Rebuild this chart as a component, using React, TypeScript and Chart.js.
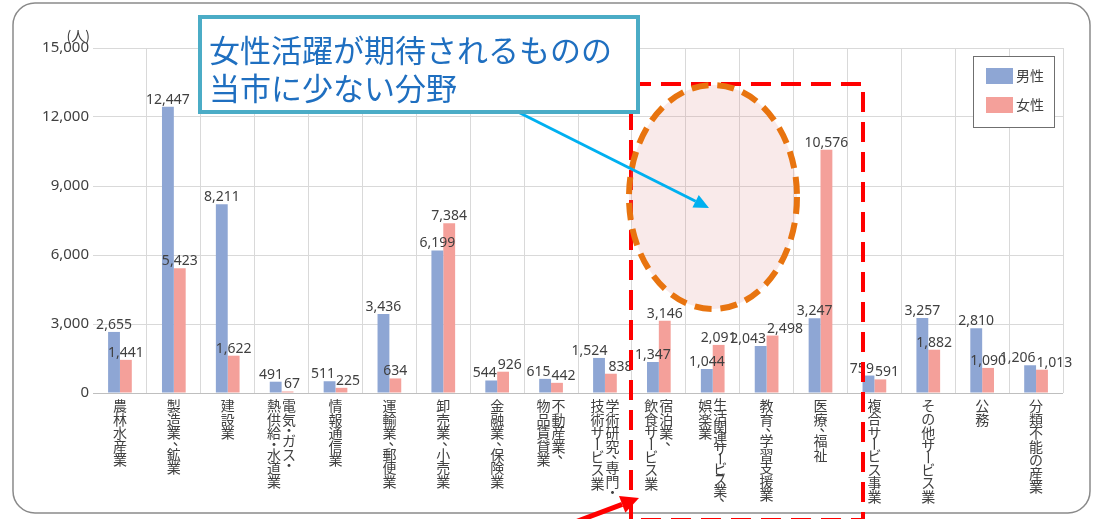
import React, { useEffect, useRef } from "react";
import { Chart, registerables } from "chart.js";

Chart.register(...registerables);

// ---- data ----
const categories: string[][] = [
  ["農林水産業"],
  ["製造業、鉱業"],
  ["建設業"],
  ["電気・ガス・", "熱供給・水道業"],
  ["情報通信業"],
  ["運輸業、郵便業"],
  ["卸売業、小売業"],
  ["金融業、保険業"],
  ["不動産業、", "物品賃貸業"],
  ["学術研究、専門・", "技術サービス業"],
  ["宿泊業、", "飲食サービス業"],
  ["生活関連サービス業、", "娯楽業"],
  ["教育、学習支援業"],
  ["医療、福祉"],
  ["複合サービス事業"],
  ["その他サービス業"],
  ["公務"],
  ["分類不能の産業"],
];
const maleValues = [2655, 12447, 8211, 491, 511, 3436, 6199, 544, 615, 1524, 1347, 1044, 2043, 3247, 759, 3257, 2810, 1206];
const femaleValues = [1441, 5423, 1622, 67, 225, 634, 7384, 926, 442, 838, 3146, 2091, 2498, 10576, 591, 1882, 1090, 1013];
const seriesNames = ["男性", "女性"];
const yMin = 0;
const yMax = 15000;
const yStep = 3000;
const yUnit = "(人)";
const calloutLines = ["女性活躍が期待されるものの", "当市に少ない分野"];

const MALE_COLOR = "#8EA6D4";
const FEMALE_COLOR = "#F4A09A";
const TEXT = "#404040";
const CJK = '"Noto Sans CJK JP", "Noto Sans", sans-serif';
const NUM = '"Noto Sans", sans-serif';

const fmt = (v: number) => v.toLocaleString("en-US");

function drawArrow(ctx: CanvasRenderingContext2D, x1: number, y1: number, x2: number, y2: number, color: string, lw: number, headLen: number, headHalf: number) {
  const ang = Math.atan2(y2 - y1, x2 - x1);
  const bx = x2 - Math.cos(ang) * headLen;
  const by = y2 - Math.sin(ang) * headLen;
  ctx.save();
  ctx.strokeStyle = color;
  ctx.fillStyle = color;
  ctx.lineWidth = lw;
  ctx.setLineDash([]);
  ctx.beginPath();
  ctx.moveTo(x1, y1);
  ctx.lineTo(bx, by);
  ctx.stroke();
  ctx.beginPath();
  ctx.moveTo(x2, y2);
  ctx.lineTo(bx + Math.sin(ang) * headHalf, by - Math.cos(ang) * headHalf);
  ctx.lineTo(bx - Math.sin(ang) * headHalf, by + Math.cos(ang) * headHalf);
  ctx.closePath();
  ctx.fill();
  ctx.restore();
}

const barLabelPlugin = {
  id: "barLabels",
  afterDatasetsDraw(chart: any) {
    const ctx: CanvasRenderingContext2D = chart.ctx;
    const m0 = chart.getDatasetMeta(0);
    const m1 = chart.getDatasetMeta(1);
    ctx.save();
    ctx.font = `14px ${NUM}`;
    ctx.fillStyle = TEXT;
    ctx.textAlign = "center";
    ctx.textBaseline = "alphabetic";
    for (let i = 0; i < categories.length; i++) {
      const a = m0.data[i];
      const b = m1.data[i];
      const ta = fmt(maleValues[i]);
      const tb = fmt(femaleValues[i]);
      const wa = ctx.measureText(ta).width;
      const wb = ctx.measureText(tb).width;
      let xa = a.x;
      let xb = b.x;
      const ya = a.y - 3;
      const yb = b.y - 3;
      if (Math.abs(ya - yb) < 16) {
        const overlap = xa + wa / 2 + 1 - (xb - wb / 2);
        if (overlap > 0) {
          xa -= overlap / 2;
          xb += overlap / 2;
        }
      }
      ctx.fillText(ta, xa, ya);
      ctx.fillText(tb, xb, yb);
    }
    ctx.restore();
  },
};

const decorPlugin = {
  id: "decor",
  afterDraw(chart: any) {
    const ctx: CanvasRenderingContext2D = chart.ctx;
    const area = chart.chartArea;
    const xs = chart.scales.x;
    ctx.save();

    // unit label
    ctx.font = `14px ${CJK}`;
    ctx.fillStyle = TEXT;
    ctx.textAlign = "right";
    ctx.textBaseline = "middle";
    ctx.fillText(yUnit, area.left - 3, area.top - 12);

    // vertical category labels
    const fs = 14;
    const maxColH = 104;
    ctx.font = `${fs}px ${CJK}`;
    ctx.textAlign = "center";
    ctx.textBaseline = "middle";
    ctx.fillStyle = TEXT;
    const cellH = (ch: string) => ("、・".includes(ch) ? 8 : ch === "ー" ? 10 : 13.5);
    categories.forEach((cols, i) => {
      const cx0 = xs.getPixelForValue(i);
      const n = cols.length;
      cols.forEach((line, j) => {
        // first line is the right-most column
        const cx = cx0 + ((n - 1) / 2 - j) * 15;
        const chars = Array.from(line);
        const total = chars.reduce((s, ch) => s + cellH(ch), 0);
        const k = total > maxColH ? maxColH / total : 1;
        let y = area.bottom + 6;
        for (const ch of chars) {
          const h = cellH(ch) * k;
          const cy = y + h / 2;
          if (ch === "ー") {
            ctx.save();
            ctx.translate(cx, cy);
            ctx.rotate(Math.PI / 2);
            ctx.fillText(ch, 0, 0);
            ctx.restore();
          } else if (ch === "、") {
            ctx.fillText(ch, cx + 6, cy - 4);
          } else {
            ctx.fillText(ch, cx, cy);
          }
          y += h;
        }
      });
    });

    // legend
    const lx = 973, ly = 56, lw = 81, lh = 71;
    ctx.fillStyle = "#ffffff";
    ctx.fillRect(lx, ly, lw, lh);
    ctx.strokeStyle = "#6f6f6f";
    ctx.lineWidth = 1;
    ctx.strokeRect(lx + 0.5, ly + 0.5, lw, lh);
    const colors = [MALE_COLOR, FEMALE_COLOR];
    ctx.font = `14px ${CJK}`;
    ctx.textAlign = "left";
    ctx.textBaseline = "middle";
    seriesNames.forEach((name, k) => {
      const sy = 68 + k * 29;
      ctx.fillStyle = colors[k];
      ctx.fillRect(986, sy, 27, 16);
      ctx.fillStyle = TEXT;
      ctx.fillText(name, 1016, sy + 8);
    });

    // outer rounded frame
    ctx.strokeStyle = "#8a8a8a";
    ctx.lineWidth = 1.5;
    ctx.beginPath();
    (ctx as any).roundRect(13, 3, 1077, 510, 22);
    ctx.stroke();

    // red dashed rectangle
    ctx.strokeStyle = "#FF0000";
    ctx.lineWidth = 4;
    ctx.setLineDash([20, 10]);
    ctx.strokeRect(631, 84, 232, 436);
    ctx.setLineDash([]);

    // ellipse
    ctx.beginPath();
    ctx.ellipse(713, 197, 84, 112, 0, 0, Math.PI * 2);
    ctx.fillStyle = "rgba(225,150,150,0.2)";
    ctx.fill();
    ctx.strokeStyle = "#E8740F";
    ctx.lineWidth = 6;
    ctx.setLineDash([17, 9]);
    ctx.stroke();
    ctx.setLineDash([]);

    // cyan arrow
    drawArrow(ctx, 518, 112, 709, 208, "#00B0F0", 3, 15, 7);

    // callout box
    ctx.fillStyle = "#ffffff";
    ctx.fillRect(200, 17, 438, 95);
    ctx.strokeStyle = "#4BACC6";
    ctx.lineWidth = 4;
    ctx.strokeRect(200, 17, 438, 95);
    ctx.fillStyle = "#1F6FC0";
    ctx.font = `31px ${CJK}`;
    ctx.textAlign = "left";
    ctx.textBaseline = "middle";
    ctx.fillText(calloutLines[0], 209, 50);
    ctx.fillText(calloutLines[1], 209, 88);

    // red arrow
    drawArrow(ctx, 570, 524, 639, 498, "#FF0000", 5, 18, 9);

    ctx.restore();
  },
};

export default function App() {
  const ref = useRef<HTMLCanvasElement | null>(null);
  useEffect(() => {
    document.body.style.margin = "0";
    if (!ref.current) return;
    const chart = new Chart(ref.current, {
      type: "bar",
      data: {
        labels: categories.map((c) => c.join("")),
        datasets: [
          { label: seriesNames[0], data: maleValues, backgroundColor: MALE_COLOR, categoryPercentage: 0.44, barPercentage: 1.0 },
          { label: seriesNames[1], data: femaleValues, backgroundColor: FEMALE_COLOR, categoryPercentage: 0.44, barPercentage: 1.0 },
        ],
      },
      options: {
        responsive: false,
        animation: false,
        devicePixelRatio: 1,
        layout: { padding: { left: 0, top: 48, right: 30, bottom: 0 } },
        plugins: { legend: { display: false }, tooltip: { enabled: false } },
        scales: {
          x: {
            offset: true,
            grid: {
              offset: true,
              drawTicks: false,
              color: (c: any) => (c.index === 0 || c.index === categories.length ? "rgba(0,0,0,0)" : "#d9d9d9"),
            },
            border: { display: false },
            ticks: { display: false },
            afterFit: (s: any) => {
              s.height = 126;
            },
          },
          y: {
            min: yMin,
            max: yMax,
            ticks: {
              stepSize: yStep,
              padding: 4,
              color: TEXT,
              font: { family: NUM, size: 15 },
              callback: (v: any) => fmt(Number(v)),
            },
            grid: {
              drawTicks: false,
              color: (c: any) => (c.index === 0 ? "#bfbfbf" : "#d9d9d9"),
            },
            border: { display: false },
            afterFit: (s: any) => {
              s.width = 93;
            },
          },
        },
      },
      plugins: [barLabelPlugin, decorPlugin],
    });
    return () => chart.destroy();
  }, []);
  return (
    <div style={{ width: 1093, height: 519, background: "#fff" }}>
      <canvas ref={ref} width={1093} height={519} style={{ display: "block" }} />
    </div>
  );
}
